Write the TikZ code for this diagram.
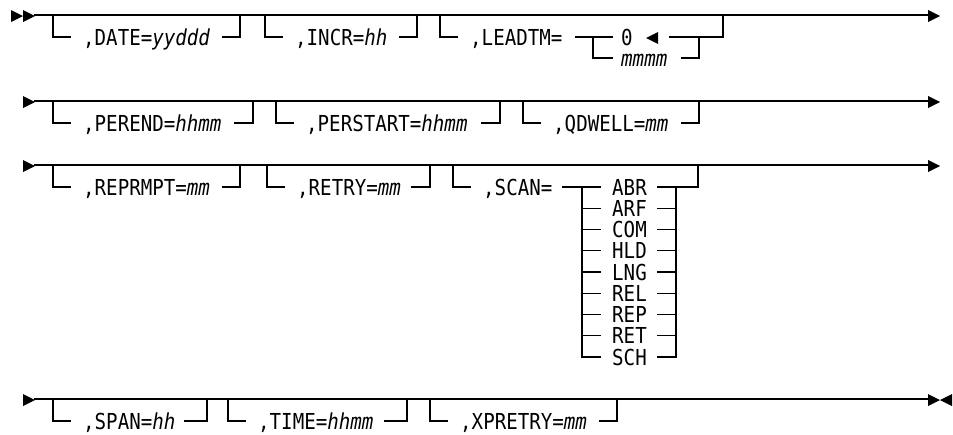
\documentclass[tikz,border=0pt]{standalone}
\usepackage{fontspec}
\newfontfamily\rrfont[FakeStretch=0.87]{DejaVu Sans Mono}
\tikzset{
  lab/.style={anchor=base west, inner sep=0pt, font=\rrfont\fontsize{22}{26}\selectfont},
  rr/.style={line width=1.4pt, line cap=rect},
  tip/.style={fill=black}
}
% #1 name, #2 main y, #3 bottom y, #4 left x, #5 right x, #6 text, #7 stub start x
\newcommand\rropt[7]{%
  \node[lab] (#1) at (#4+30,#3+8) {#6};
  \draw[rr] (#4,#2) -- (#4,#3) -- (#4+17,#3);
  \draw[rr] (#7,#3) -- (#5,#3) -- (#5,#2);
}
\newcommand\rrright[2]{% tip x, y
  \fill[tip] (#1-12,#2-5) -- (#1,#2+1) -- (#1-12,#2+7) -- cycle;}
\newcommand\rrleft[2]{%
  \fill[tip] (#1+12,#2-5) -- (#1,#2+1) -- (#1+12,#2+7) -- cycle;}
\begin{document}
\begin{tikzpicture}[x=1pt,y=-1pt]
\useasboundingbox (0,0) rectangle (953,434);
% ---------------- row 1 ----------------
\rrright{23}{15}\rrright{35}{15}
\draw[rr] (35,15) -- (928,15);
\rrright{940}{15}
\rropt{date}{15}{37}{53}{240}{,DATE=\textit{yyddd}}{223}
\rropt{incr}{15}{37}{265}{417}{,INCR=\textit{hh}}{400}
\node[lab] (leadtm) at (440+30,37+8) {,LEADTM=};
\draw[rr] (440,15) -- (440,37) -- (457,37);
\node[lab] (zero) at (621,37+8) {0};
\rrleft{646}{37}
\node[lab] (mmmm) at (621,58+8) {\textit{mmmm}};
\draw[rr] (576,37) -- (612,37);
\draw[rr] (593,37) -- (593,58) -- (612,58);
\draw[rr] (670,37) -- (723,37) -- (723,15);
\draw[rr] (682,58) -- (699,58) -- (699,37);
% ---------------- row 2 ----------------
\rrright{35}{101}
\draw[rr] (35,101) -- (928,101);
\rrright{940}{101}
\rropt{perend}{101}{123}{53}{253}{,PEREND=\textit{hhmm}}{235}
\rropt{perstart}{101}{123}{276}{500}{,PERSTART=\textit{hhmm}}{482}
\rropt{qdwell}{101}{123}{523}{699}{,QDWELL=\textit{mm}}{682}
% ---------------- row 3 ----------------
\rrright{35}{165}
\draw[rr] (35,165) -- (928,165);
\rrright{940}{165}
\rropt{reprmpt}{165}{187}{53}{240}{,REPRMPT=\textit{mm}}{223}
\rropt{retry}{165}{187}{267}{430}{,RETRY=\textit{mm}}{412}
\node[lab] (scan) at (453+30,187+8) {,SCAN=};
\draw[rr] (453,165) -- (453,187) -- (470,187);
\draw[rr] (563,187) -- (600,187);
\draw[rr] (658,187) -- (698,187) -- (698,165);
\draw[rr] (582,187) -- (582,357);
\draw[rr] (676,187) -- (676,357);
\foreach \t [count=\i from 0] in {ABR,ARF,COM,HLD,LNG,REL,REP,RET,SCH}{
  \pgfmathsetmacro\yy{187+\i*21.25}
  \node[lab] (s\t) at (612,\yy+8) {\t};
  \draw[rr] (582,\yy) -- (600,\yy);
  \draw[rr] (658,\yy) -- (676,\yy);
}
% ---------------- row 4 ----------------
\rrright{35}{399}
\draw[rr] (35,399) -- (928,399);
\rrright{940}{399}
\rrleft{940}{399}
\rropt{span}{399}{421}{53}{207}{,SPAN=\textit{hh}}{185}
\rropt{time}{399}{421}{228}{407}{,TIME=\textit{hhmm}}{385}
\rropt{xpretry}{399}{421}{430}{617}{,XPRETRY=\textit{mm}}{600}
\end{tikzpicture}
\end{document}
